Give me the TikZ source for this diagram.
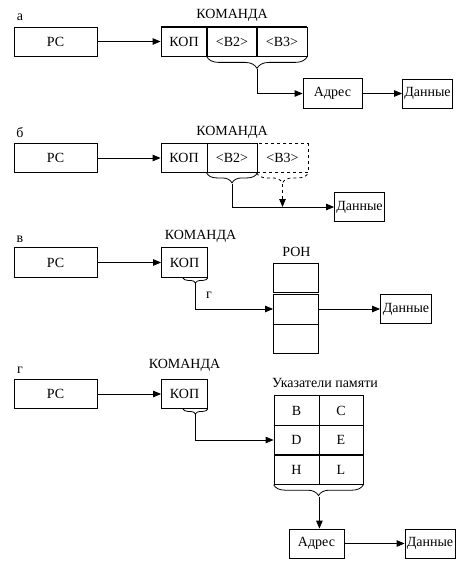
\documentclass[tikz,border=0pt]{standalone}
\usepackage{fontspec}
\setmainfont{Liberation Serif}
\usepackage{tikz}
\usetikzlibrary{arrows.meta, calc, decorations.pathreplacing}

\begin{document}
\begin{tikzpicture}[x=1pt, y=-1pt, line width=0.8pt,
    font=\rmfamily\fontsize{14}{16}\selectfont,
    box/.style={draw, minimum height=29pt, inner sep=0pt},
    cell/.style={draw, minimum width=45pt, minimum height=29.5pt, inner sep=0pt},
    arr/.style={-{Triangle[length=8pt, width=6.5pt]}},
    brc/.style={decorate, decoration={brace, mirror, amplitude=#1}}]
    \useasboundingbox (0,0) rectangle (472,578);

    % a
    \node (labA) at (20,17) {а};
    \node[box, minimum width=83pt] (pcA) at (55.5,41.5) {РС};
    \node[box, minimum width=46pt] (kopA) at (184,41.5) {КОП};
    \node[box, minimum width=50pt] (b2A) at (232,41.5) {<B2>};
    \node[box, minimum width=50pt] (b3A) at (282,41.5) {<B3>};
    \node (kmdA) at (232,15) {КОМАНДА};
    \node[box, minimum width=59pt, minimum height=30pt] (addrA) at (332.5,93.5) {Адрес};
    \node[box, minimum width=50pt] (dataA) at (427.5,93.5) {Данные};
    \draw[line width=1.6pt] (kopA.north west) -- (b3A.north east);
    \draw[line width=1.6pt] (b2A.north west) -- (b2A.south west);
    \draw[line width=1.6pt] (b3A.north west) -- (b3A.south west);
    \draw[brc=12pt] (b2A.south west) -- (b3A.south east);
    \coordinate (brA) at ($(b2A.south east)+(0,13)$);
    \draw[arr] (pcA) -- (kopA);
    \draw[arr] (brA) |- (addrA);
    \draw[arr] (addrA) -- (dataA);

    % b
    \node (labB) at (20,133) {б};
    \node[box, minimum width=83pt] (pcB) at (55.5,158) {РС};
    \node[box, minimum width=46pt] (kopB) at (184,158) {КОП};
    \node[box, minimum width=50pt] (b2B) at (232,158) {<B2>};
    \node[box, minimum width=51pt, dashed] (b3B) at (282.5,158) {<B3>};
    \node (kmdB) at (232,132) {КОМАНДА};
    \node[box, minimum width=50pt] (dataB) at (359.5,207) {Данные};
    \draw[brc=10pt] (b2B.south west) -- (b2B.south east);
    \draw[brc=10pt, dashed] (b3B.south west) -- (b3B.south east);
    \coordinate (brB2) at ($(b2B.south)+(0,11)$);
    \coordinate (brB3) at ($(b3B.south)+(0,11)$);
    \draw[arr] (pcB) -- (kopB);
    \draw[arr] (brB2) |- (dataB);
    \draw[arr, dashed] (brB3) -- (brB3 |- dataB);

    % v
    \node (labC) at (20,239) {в};
    \node[box, minimum width=83pt, minimum height=29.5pt] (pcC) at (55.5,262.5) {РС};
    \node[box, minimum width=46pt, minimum height=30pt] (kopC) at (184.5,262.5) {КОП};
    \node (kmdC) at (200.5,236) {КОМАНДА};
    \draw[brc=5pt] ($(kopC.south east)+(-25,0)$) -- (kopC.south east);
    \coordinate (brC) at ($(kopC.south east)+(-12.5,5)$);
    \node (ronC) at (296.5,251.5) {РОН};
    \node[cell] (ron1) at (296,278) {};
    \node[cell, minimum height=30pt] (ron2) at (296,309) {};
    \node[cell] (ron3) at (296,338.7) {};
    \draw[line width=1.6pt] (ron2.south west) -- (ron2.south east);
    \node (gC) at (209,295) {г};
    \node[box, minimum width=51pt] (dataC) at (406,309) {Данные};
    \draw[arr] (pcC) -- (kopC);
    \draw[arr] (brC) |- (ron2);
    \draw[arr] (ron2) -- (dataC);

    % g
    \node (labD) at (20,370) {г};
    \node[box, minimum width=83pt] (pcD) at (55.5,394) {РС};
    \node[box, minimum width=46pt] (kopD) at (184.5,394) {КОП};
    \node (kmdD) at (184.5,365) {КОМАНДА};
    \draw[brc=5pt] ($(kopD.south east)+(-25,0)$) -- (kopD.south east);
    \coordinate (brD) at ($(kopD.south east)+(-12.5,5)$);
    \node (ukD) at (325,383) {Указатели памяти};
    \node[cell] (rB) at (296.5,410.5) {B};
    \node[cell, minimum width=44pt] (rC) at (341,410.5) {C};
    \node[cell] (rD) at (296.5,440) {D};
    \node[cell, minimum width=44pt] (rE) at (341,440) {E};
    \node[cell] (rH) at (296.5,469.5) {H};
    \node[cell, minimum width=44pt] (rL) at (341,469.5) {L};
    \draw[line width=1.6pt] (rB.north east) -- (rH.south east);
    \draw[line width=1.6pt] (rB.south west) -- (rC.south east);
    \draw[line width=1.6pt] (rD.south west) -- (rE.south east);
    \draw[brc=11pt] (rH.south west) -- (rL.south east);
    \coordinate (brT) at ($(rH.south east)+(0,12)$);
    \node[box, minimum width=55pt] (addrD) at (316.5,543.5) {Адрес};
    \node[box, minimum width=50pt] (dataD) at (430,543.5) {Данные};
    \draw[arr] (pcD) -- (kopD);
    \draw[arr] (brD) |- (rD);
    \draw[arr] (brT) -- (brT |- addrD.north);
    \draw[arr] (addrD) -- (dataD);
\end{tikzpicture}
\end{document}
